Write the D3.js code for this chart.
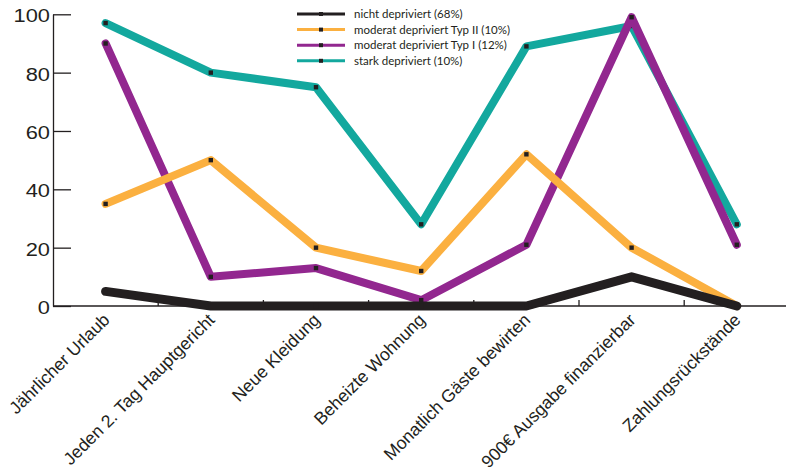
<!DOCTYPE html>
<html><head><meta charset="utf-8">
<script src="https://cdn.jsdelivr.net/npm/d3@7/dist/d3.min.js"></script>
<style>body{margin:0;background:#fff}svg{display:block}</style>
</head><body>
<svg id="c" width="786" height="474"></svg>
<script>
const categories = ["Jährlicher Urlaub","Jeden 2. Tag Hauptgericht","Neue Kleidung","Beheizte Wohnung","Monatlich Gäste bewirten","900€ Ausgabe finanzierbar","Zahlungsrückstände"];
const seriesNames = ["nicht depriviert (68%)","moderat depriviert Typ II (10%)","moderat depriviert Typ I (12%)","stark depriviert (10%)"];
const nichtValues  = [5, 0, 0, 0, 0, 10, 0];
const typIIValues  = [35, 50, 20, 12, 52, 20, 0];
const typIValues   = [90, 10, 13, 2, 21, 99, 21];
const starkValues  = [97, 80, 75, 28, 89, 96, 28];
const yTicks = [0, 20, 40, 60, 80, 100];
const colors = ["#231f20", "#fbb040", "#92278f", "#13a89e"];

const series = [nichtValues, typIIValues, typIValues, starkValues].map((v,i)=>({name:seriesNames[i], values:v, color:colors[i]}));

const svg = d3.select("#c");
const x = d3.scaleBand().domain(categories).range([53, 789.4]).padding(0);
const y = d3.scaleLinear().domain([0,100]).range([306, 14.3]);
const cx = c => x(c) + x.bandwidth()/2;

// y axis
const ya = svg.append("g").attr("transform","translate(53,0)")
  .call(d3.axisLeft(y).tickValues(yTicks).tickSize(-18).tickPadding(3).tickSizeOuter(0));
ya.select(".domain").attr("stroke","#231f20").attr("stroke-width",1.3);
ya.selectAll(".tick line").attr("stroke","#231f20").attr("stroke-width",1.3);
ya.selectAll(".tick text").attr("font-family","Liberation Sans, Arial, sans-serif").attr("font-size",19)
  .attr("fill","#231f20").attr("dy","0.4em")
  .attr("transform","scale(1.15,1)")
  .attr("x", -3/1.15);

// x axis line
svg.append("line").attr("x1",53).attr("x2",786).attr("y1",306).attr("y2",306)
  .attr("stroke","#231f20").attr("stroke-width",1.3);
svg.append("g").selectAll("line").data(categories.slice(1)).join("line")
  .attr("x1",d=>x(d)).attr("x2",d=>x(d)).attr("y1",306).attr("y2",300)
  .attr("stroke","#231f20").attr("stroke-width",1.3);

// x labels
svg.append("g").selectAll("text").data(categories).join("text")
  .attr("transform",d=>`translate(${cx(d)+5},${321}) rotate(-45)`)
  .attr("text-anchor","end")
  .attr("font-family","Liberation Sans, Arial, sans-serif").attr("font-size",17.6)
  .attr("fill","#231f20")
  .text(d=>d);

// lines: draw order teal, purple, orange, black
const line = d3.line().x((d,i)=>cx(categories[i])).y(d=>y(d));
const order = [3,2,1,0];
order.forEach(k=>{
  const s = series[k];
  svg.append("path").attr("d",line(s.values)).attr("fill","none")
    .attr("stroke",s.color).attr("stroke-width",k===0?9:8)
    .attr("stroke-linejoin","round").attr("stroke-linecap","round");
  svg.append("g").selectAll("rect").data(s.values).join("rect")
    .attr("x",(d,i)=>cx(categories[i])-2.2).attr("y",d=>y(d)-2.2)
    .attr("width",4.4).attr("height",4.4).attr("fill","#231f20");
});

// legend
const lg = svg.append("g");
series.forEach((s,i)=>{
  const yy = 14 + i*15.6;
  lg.append("line").attr("x1",297).attr("x2",345).attr("y1",yy).attr("y2",yy)
    .attr("stroke",s.color).attr("stroke-width",3);
  lg.append("rect").attr("x",319).attr("y",yy-2).attr("width",4).attr("height",4).attr("fill","#231f20");
  lg.append("text").attr("x",354).attr("y",yy).attr("dy","0.35em")
    .attr("font-family","Lato, Open Sans, sans-serif").attr("font-size",11.5)
    .attr("fill","#231f20").text(s.name);
});
</script>
</body></html>
